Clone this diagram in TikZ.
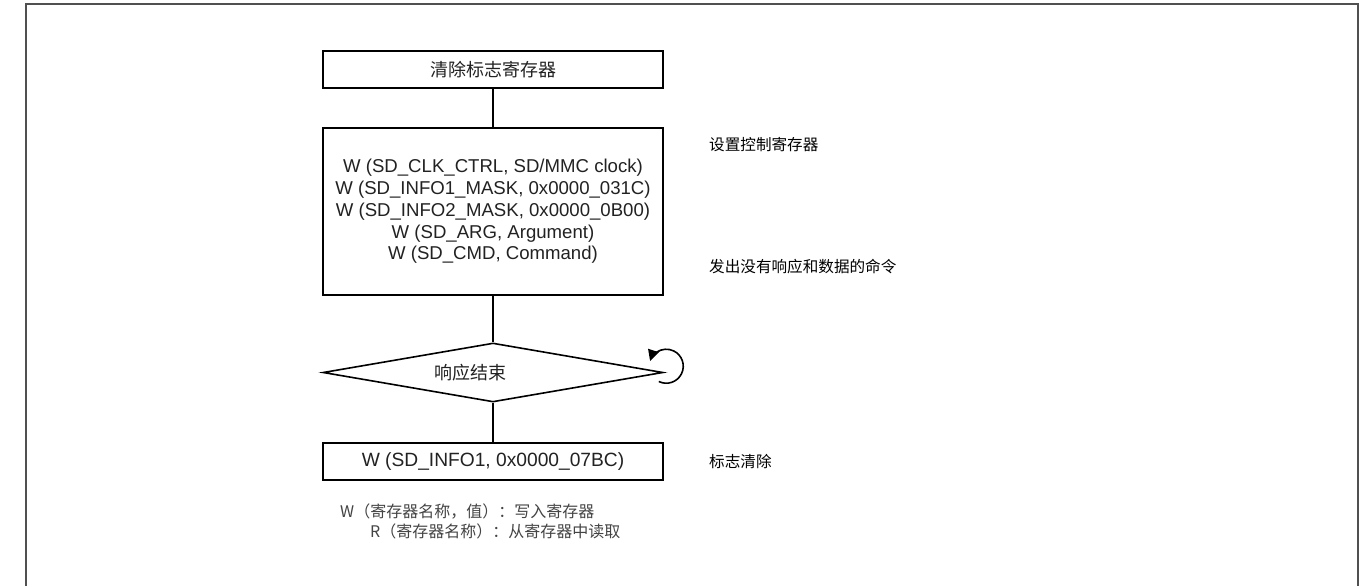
\documentclass[tikz,border=0pt]{standalone}
\usepackage{fontspec}
\setmainfont{Liberation Sans}
\newfontfamily\cjk{Noto Sans CJK SC}
\usetikzlibrary{shapes.geometric,arrows.meta}
\definecolor{framegray}{HTML}{505050}
\definecolor{txtgray}{HTML}{222222}
\definecolor{leggray}{HTML}{444444}
\begin{document}
\begin{tikzpicture}[x=1pt,y=-1pt,
  flowbox/.style={draw=black,line width=1.6pt,minimum width=340pt,inner sep=0pt},
  decbox/.style={draw=black,line width=1.6pt,shape=diamond,minimum width=340pt,minimum height=59pt,inner sep=0pt},
  conn/.style={draw=black,line width=1.6pt},
  boxtext/.style={font=\fontsize{18.6}{21.8}\selectfont,text=txtgray,align=center},
  cjktext/.style={font=\cjk\fontsize{18}{20}\selectfont,text=txtgray},
  notetext/.style={font=\cjk\fontsize{15.6}{18}\selectfont,text=black,anchor=west,inner sep=0pt},
  legtext/.style={font=\cjk\fontsize{16}{19}\selectfont,text=leggray,anchor=west,inner sep=0pt}]
\useasboundingbox (0,0) rectangle (1370,586);
\fill[white] (0,0) rectangle (1370,586);
\draw[framegray,line width=2pt] (26,586) -- (26,4) -- (1358,4) -- (1358,586);

\node[flowbox,minimum height=37pt] (b1) at (493,69.5) {};
\node[cjktext] (t1) at (b1.center) {清除标志寄存器};

\node[flowbox,minimum height=167pt] (b2) at (493,211.5) {};
\node[boxtext] (t2) at (b2.center) {W (SD\_CLK\_CTRL, SD/MMC clock)\\
W (SD\_INFO1\_MASK, 0x0000\_031C)\\
W (SD\_INFO2\_MASK, 0x0000\_0B00)\\
W (SD\_ARG, Argument)\\
W (SD\_CMD, Command)};

\node[decbox] (d) at (493,372.5) {};
\node[cjktext] (td) at (470,372.5) {响应结束};

\node[flowbox,minimum height=37pt] (b3) at (493,461.5) {};
\node[boxtext,font=\fontsize{19.2}{22}\selectfont] (t3) at (b3.center) {W (SD\_INFO1, 0x0000\_07BC)};

\draw[conn] (b1) -- (b2);
\draw[conn] (b2) -- (d);
\draw[conn] (d) -- (b3);
\draw[conn,-{Triangle[length=11pt,width=11pt]}] ([shift={(-5,9)}]d.east) arc[start angle=116,end angle=-162,radius=17];

\node[notetext] (n1) at (709,145) {设置控制寄存器};
\node[notetext] (n2) at (709,267) {发出没有响应和数据的命令};
\node[notetext] (n3) at (709,462) {标志清除};

\node[legtext] (l1) at (340,512) {W（寄存器名称，值）：写入寄存器};
\node[legtext] (l2) at (370,531) {R（寄存器名称）：从寄存器中读取};
\end{tikzpicture}
\end{document}
